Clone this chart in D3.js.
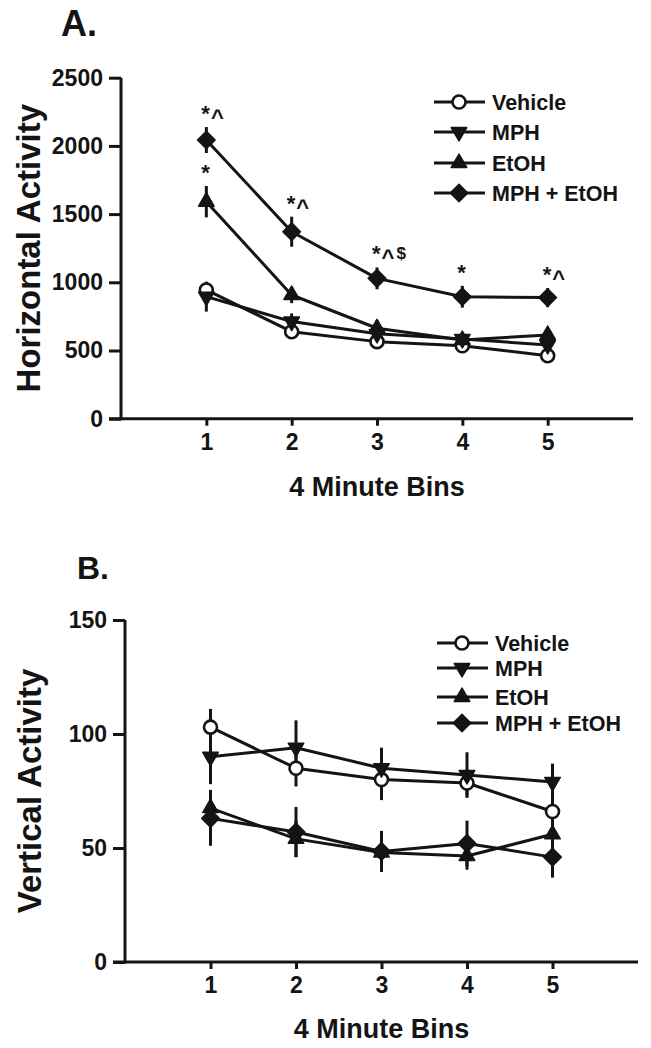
<!DOCTYPE html>
<html><head><meta charset="utf-8">
<script src="https://cdn.jsdelivr.net/npm/d3@7"></script>
<style>
body{margin:0;background:#fff}
svg{display:block}
text{font-family:"Liberation Sans",Arial,Helvetica,sans-serif;font-weight:bold;fill:#141414}
</style>
</head><body>
<svg id="c" width="651" height="1048"></svg>
<script>
// ---------- shared ----------
const bins = [1, 2, 3, 4, 5];
const seriesNames = ["Vehicle", "MPH", "EtOH", "MPH + EtOH"];
const seriesMarkers = ["circle", "triDown", "triUp", "diamond"];
const xAxisTitle = "4 Minute Bins";

// ---------- Panel A : Horizontal Activity ----------
const horizTicks = [0, 500, 1000, 1500, 2000, 2500];
const horizVehicle    = [944, 638, 565, 535, 462];
const horizVehicleErr = [40, 40, 30, 30, 30];
const horizMPH        = [895, 712, 622, 585, 540];
const horizMPHErr     = [110, 60, 45, 40, 40];
const horizEtOH       = [1591, 907, 663, 577, 614];
const horizEtOHErr    = [115, 60, 60, 40, 40];
const horizCombo      = [2043, 1371, 1029, 894, 888];
const horizComboErr   = [95, 110, 80, 80, 70];
const horizSigCombo   = ["*^", "*^", "*^$", "*", "*^"];
const horizSigEtOH    = ["*", "", "", "", ""];

// ---------- Panel B : Vertical Activity ----------
const vertTicks = [0, 50, 100, 150];
const vertVehicle    = [103, 85, 80, 78.5, 66];
const vertVehicleErr = [8, 8, 9, 6, 9];
const vertMPH        = [90, 94, 85, 82, 79];
const vertMPHErr     = [12, 12, 9, 10, 8];
const vertEtOH       = [67.5, 54, 48, 46.5, 56];
const vertEtOHErr    = [8, 8, 8, 6, 6];
const vertCombo      = [63, 57, 48.5, 52, 46];
const vertComboErr   = [12, 11, 9, 10, 9];

const svg = d3.select("#c");
const INK = "#141414";

function markerPath(type) {
  const p = d3.path();
  if (type === "circle") { p.arc(0, 0, 6.5, 0, 2 * Math.PI); }
  else if (type === "diamond") { const r = 8.8; p.moveTo(0, -r); p.lineTo(r, 0); p.lineTo(0, r); p.lineTo(-r, 0); p.closePath(); }
  else if (type === "triUp") { const s = 15.5, h = s * Math.sqrt(3) / 2; p.moveTo(0, -h * 2 / 3); p.lineTo(s / 2, h / 3); p.lineTo(-s / 2, h / 3); p.closePath(); }
  else if (type === "triDown") { const s = 15.5, h = s * Math.sqrt(3) / 2; p.moveTo(0, h * 2 / 3); p.lineTo(s / 2, -h / 3); p.lineTo(-s / 2, -h / 3); p.closePath(); }
  return p.toString();
}
function drawMarker(g, type, x, y) {
  g.append("path").attr("d", markerPath(type))
    .attr("transform", `translate(${x},${y})`)
    .attr("fill", type === "circle" ? "#fff" : INK)
    .attr("stroke", INK).attr("stroke-width", type === "circle" ? 2.6 : 1.5)
    .attr("stroke-linejoin", "round");
}

function panel(cfg) {
  const g = svg.append("g");
  const x = d3.scaleLinear().domain([0, 6]).range([cfg.x0, cfg.x1]);
  const y = d3.scaleLinear().domain([0, cfg.ymax]).range([cfg.y0, cfg.y1]);

  g.append("text").attr("x", cfg.letterX).attr("y", cfg.letterY)
    .style("font-size", cfg.letterSize + "px").text(cfg.letter);

  const ya = g.append("g").attr("transform", `translate(${cfg.x0},0)`)
    .call(d3.axisLeft(y).tickValues(cfg.ticks).tickSize(12).tickPadding(6).tickFormat(d3.format("d")));
  ya.select(".domain").attr("stroke", INK).attr("stroke-width", 3).attr("d", `M0,${cfg.y0 + 1.5}V${cfg.y1}`);
  ya.selectAll(".tick line").attr("stroke", INK).attr("stroke-width", 3);
  ya.selectAll(".tick text").attr("fill", INK).style("font-size", "23px")
    .style("font-family", '"Liberation Sans",Arial,sans-serif').style("font-weight", "bold");

  const xa = g.append("g").attr("transform", `translate(0,${cfg.y0})`)
    .call(d3.axisBottom(x).tickValues(bins).tickSize(7).tickPadding(8).tickFormat(d3.format("d")));
  xa.select(".domain").attr("stroke", INK).attr("stroke-width", 3).attr("d", `M${cfg.x0 - 12},0H${cfg.x1}`);
  xa.selectAll(".tick line").attr("stroke", INK).attr("stroke-width", 3);
  xa.selectAll(".tick text").attr("fill", INK).style("font-size", "23px")
    .style("font-family", '"Liberation Sans",Arial,sans-serif').style("font-weight", "bold");

  g.append("text").attr("x", x(3)).attr("y", cfg.y0 + cfg.xTitleDy)
    .attr("text-anchor", "middle").style("font-size", "27px").text(xAxisTitle);
  g.append("text").attr("transform", `translate(${cfg.yTitleX},${(cfg.y0 + cfg.y1) / 2}) rotate(-90)`)
    .attr("text-anchor", "middle").style("font-size", "33px").text(cfg.yTitle);

  const line = d3.line().x((d, i) => x(bins[i])).y(d => y(d));
  cfg.series.forEach(s => {
    g.append("path").datum(s.v).attr("d", line).attr("fill", "none")
      .attr("stroke", INK).attr("stroke-width", 3).attr("stroke-linejoin", "round");
  });
  cfg.series.forEach(s => {
    s.v.forEach((v, i) => {
      g.append("line").attr("x1", x(bins[i])).attr("x2", x(bins[i]))
        .attr("y1", y(v - s.e[i])).attr("y2", y(v + s.e[i]))
        .attr("stroke", INK).attr("stroke-width", 3);
    });
  });
  cfg.series.forEach((s, si) => {
    s.v.forEach((v, i) => drawMarker(g, seriesMarkers[si], x(bins[i]), y(v)));
  });

  // significance marks: "*", lowered "^", slightly smaller "$"
  (cfg.sig || []).forEach(sg => {
    sg.labels.forEach((lab, i) => {
      if (!lab) return;
      const top = y(sg.v[i] + sg.e[i]);
      const t = g.append("text").attr("x", x(bins[i]) - 5).attr("y", top - 6).style("font-size", "22px");
      let shift = 0;
      lab.split("").forEach(ch => {
        let target = 0, size = null, dx = 0;
        if (ch === "^") { target = 4; dx = 1; }
        else if (ch === "$") { target = -2; dx = 2; size = "17px"; }
        const ts = t.append("tspan").attr("dy", target - shift).attr("dx", dx).text(ch);
        if (size) ts.style("font-size", size);
        shift = target;
      });
    });
  });

  cfg.legendRows.forEach((ry, i) => {
    g.append("line").attr("x1", cfg.legendX).attr("x2", cfg.legendX + 51)
      .attr("y1", ry).attr("y2", ry).attr("stroke", INK).attr("stroke-width", 3);
    drawMarker(g, seriesMarkers[i], cfg.legendX + 25, ry);
    g.append("text").attr("x", cfg.legendX + 58).attr("y", ry + 7.5)
      .style("font-size", "21.5px").text(seriesNames[i]);
  });
}

panel({
  letter: "A.", letterX: 61, letterY: 36, letterSize: 36,
  x0: 121, x1: 633, y0: 418.7, y1: 77.7, ymax: 2500, ticks: horizTicks,
  yTitle: "Horizontal Activity", yTitleX: 40, xTitleDy: 77,
  series: [
    { v: horizVehicle, e: horizVehicleErr },
    { v: horizMPH, e: horizMPHErr },
    { v: horizEtOH, e: horizEtOHErr },
    { v: horizCombo, e: horizComboErr }
  ],
  sig: [
    { labels: horizSigCombo, v: horizCombo, e: horizComboErr },
    { labels: horizSigEtOH, v: horizEtOH, e: horizEtOHErr }
  ],
  legendX: 434, legendRows: [102, 132, 163, 193]
});

panel({
  letter: "B.", letterX: 77, letterY: 579, letterSize: 32,
  x0: 125, x1: 638, y0: 962, y1: 620, ymax: 150, ticks: vertTicks,
  yTitle: "Vertical Activity", yTitleX: 41, xTitleDy: 76,
  series: [
    { v: vertVehicle, e: vertVehicleErr },
    { v: vertMPH, e: vertMPHErr },
    { v: vertEtOH, e: vertEtOHErr },
    { v: vertCombo, e: vertComboErr }
  ],
  legendX: 437, legendRows: [643, 668, 697, 723]
});
</script>
</body></html>
